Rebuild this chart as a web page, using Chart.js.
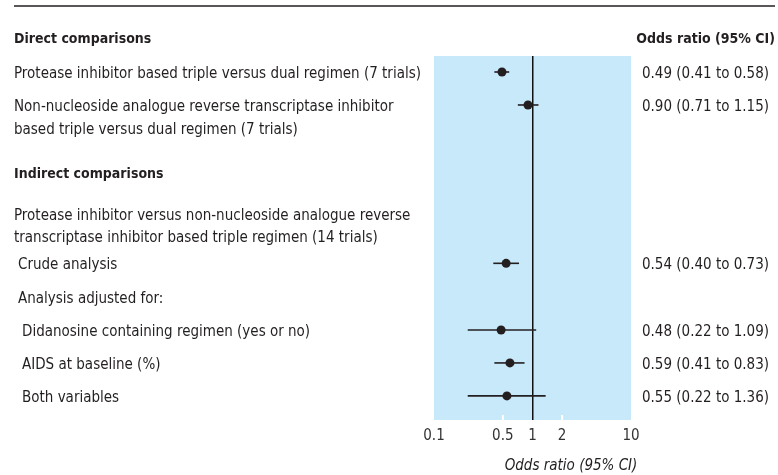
<!DOCTYPE html>
<html><head><meta charset="utf-8">
<script src="https://cdn.jsdelivr.net/npm/chart.js@4/dist/chart.umd.min.js"></script>
<style>html,body{margin:0;padding:0;background:#fff}#wrap{width:778px;height:475px;position:relative}</style>
</head><body><div id="wrap"><canvas id="c"></canvas></div>
<script>
// ---------- data ----------
const sectionHeaders = ["Direct comparisons", "Indirect comparisons"];
const columnHeader = "Odds ratio (95% CI)";
const rowLabels = [
  ["Protease inhibitor based triple versus dual regimen (7 trials)"],
  ["Non-nucleoside analogue reverse transcriptase inhibitor", "based triple versus dual regimen (7 trials)"],
  ["Crude analysis"],
  ["Didanosine containing regimen (yes or no)"],
  ["AIDS at baseline (%)"],
  ["Both variables"]
];
const subHeaders = [
  ["Protease inhibitor versus non-nucleoside analogue reverse", "transcriptase inhibitor based triple regimen (14 trials)"],
  ["Analysis adjusted for:"]
];
const oddsRatio = [0.49, 0.90, 0.54, 0.48, 0.59, 0.55];
const ciLower   = [0.41, 0.71, 0.40, 0.22, 0.41, 0.22];
const ciUpper   = [0.58, 1.15, 0.73, 1.09, 0.83, 1.36];
const xTicks = [0.1, 0.5, 1, 2, 10];
const axisTitle = "Odds ratio (95% CI)";

// ---------- layout (row slots on the y scale, indents) ----------
const rowSlot = [0, 1, 5.8, 7.82, 8.82, 9.82];
const rowIndent = [14, 14, 18, 22, 22, 22];
const headerSlot = [-1.06, 3.03];
const subSlot = [4.3, 6.82];
const subIndent = [14, 18];
const lineStep = 0.69;

const FONT = '"Liberation Sans Narrow", "DejaVu Sans Condensed", sans-serif';
const INK = '#231f20';

const forest = {
  id: 'forest',
  beforeDraw(chart) {
    const {ctx, chartArea: a} = chart;
    ctx.save();
    ctx.fillStyle = '#c7e9f9';
    ctx.fillRect(a.left, a.top, a.right - a.left, a.bottom - a.top);
    ctx.restore();
  },
  beforeDatasetsDraw(chart) {
    const {ctx, chartArea: a} = chart;
    const xs = chart.scales.x, ys = chart.scales.y;
    ctx.save();
    ctx.strokeStyle = '#ffffff';
    ctx.lineWidth = 2;
    [0.5, 2].forEach(v => {
      const px = xs.getPixelForValue(v);
      ctx.beginPath(); ctx.moveTo(px, a.bottom - 5); ctx.lineTo(px, a.bottom); ctx.stroke();
    });
    ctx.strokeStyle = INK;
    ctx.lineWidth = 1.6;
    oddsRatio.forEach((v, i) => {
      const y = ys.getPixelForValue(rowSlot[i]);
      ctx.beginPath();
      ctx.moveTo(xs.getPixelForValue(ciLower[i]), y);
      ctx.lineTo(xs.getPixelForValue(ciUpper[i]), y);
      ctx.stroke();
    });
    ctx.restore();
  },
  afterDraw(chart) {
    const {ctx, chartArea: a} = chart;
    const ys = chart.scales.y;
    ctx.save();
    ctx.fillStyle = INK;
    ctx.textBaseline = 'middle';
    const dy = 2;
    ctx.strokeStyle = INK; ctx.lineWidth = 1.5;
    ctx.beginPath(); ctx.moveTo(14, 6); ctx.lineTo(775, 6); ctx.stroke();
    ctx.font = 'bold 14px ' + FONT;
    sectionHeaders.forEach((t, i) => ctx.fillText(t, 14, ys.getPixelForValue(headerSlot[i]) + dy));
    ctx.textAlign = 'right';
    ctx.fillText(columnHeader, 775, ys.getPixelForValue(headerSlot[0]) + dy);
    ctx.textAlign = 'left';
    ctx.font = '15px ' + FONT;
    subHeaders.forEach((lines, i) => lines.forEach((t, k) =>
      ctx.fillText(t, subIndent[i], ys.getPixelForValue(subSlot[i] + k * lineStep) + dy)));
    rowLabels.forEach((lines, i) => lines.forEach((t, k) =>
      ctx.fillText(t, rowIndent[i], ys.getPixelForValue(rowSlot[i] + k * lineStep) + dy)));
    oddsRatio.forEach((v, i) => {
      const txt = v.toFixed(2) + ' (' + ciLower[i].toFixed(2) + ' to ' + ciUpper[i].toFixed(2) + ')';
      ctx.fillText(txt, 642, ys.getPixelForValue(rowSlot[i]) + dy);
    });
    ctx.font = 'italic 15px ' + FONT;
    ctx.textAlign = 'center';
    ctx.fillText(axisTitle, 571, a.bottom + 46);
    ctx.restore();
  }
};

new Chart(document.getElementById('c'), {
  type: 'scatter',
  data: {
    datasets: [{
      data: oddsRatio.map((v, i) => ({x: v, y: rowSlot[i]})),
      pointRadius: 4.5,
      pointHoverRadius: 4.5,
      pointBackgroundColor: INK,
      pointBorderColor: INK,
      pointBorderWidth: 0
    }]
  },
  options: {
    responsive: true,
    maintainAspectRatio: false,
    animation: false,
    events: [],
    layout: {padding: {left: 434, right: 147, top: 56, bottom: 0}},
    plugins: {legend: {display: false}, tooltip: {enabled: false}},
    scales: {
      x: {
        type: 'logarithmic',
        min: 0.1, max: 10,
        afterBuildTicks: s => { s.ticks = xTicks.map(v => ({value: v})); },
        afterFit: s => { s.height = 55; },
        border: {display: false},
        grid: {
          drawTicks: false,
          color: c => (c.tick && c.tick.value === 1) ? '#111111' : 'rgba(0,0,0,0)',
          lineWidth: 1.5
        },
        ticks: {
          autoSkip: false, maxRotation: 0, padding: 7,
          color: '#333333',
          font: {family: FONT, size: 15},
          callback: v => String(v)
        }
      },
      y: {
        type: 'linear', display: false, reverse: true,
        min: -0.485, max: 10.55
      }
    }
  },
  plugins: [forest]
});
</script>
</body></html>
